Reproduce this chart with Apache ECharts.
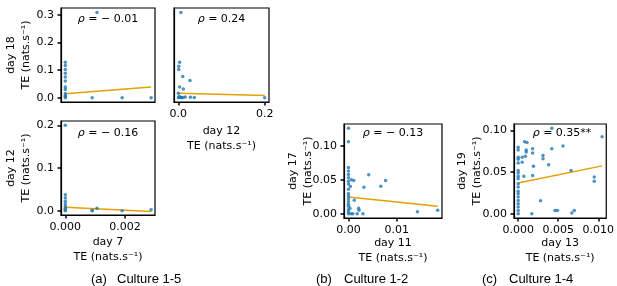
<!DOCTYPE html>
<html>
<head>
<meta charset="utf-8">
<script src="https://cdn.jsdelivr.net/npm/echarts@6/dist/echarts.min.js"></script>
<style>
html, body { margin: 0; padding: 0; background: #fff; }
#chart { width: 617px; height: 286px; }
</style>
</head>
<body>
<div id="chart"></div>
<script>
// Culture 1-5: pairs of TE values between recording days
const cultureA_day7_day18 = [
    [0, 0.129], [0, 0.117], [0, 0.102], [0, 0.089], [0, 0.075], [0, 0.061],
    [0, 0.039], [0, 0.030], [0, 0.0155], [0, 0.004], [0, 0], [0, 0.008],
    [0.0009, 0], [0.00106, 0.309], [0.0019, 0], [0.00287, 0]
];
const cultureA_day12_day18 = [
    [0.006, 0.309], [0.003, 0.129], [0.001, 0.114], [0.001, 0.102], [0.0102, 0.077],
    [0.027, 0.0625], [0.003, 0.039], [0.0116, 0.032], [0, 0.0166], [0.002, 0.004],
    [0.004, 0.002], [0.006, 0.001], [0.008, 0.001], [0.011, 0.001], [0.016, 0.003],
    [0.028, 0.002], [0.037, 0.001], [0.2, 0], [0, 0]
];
const cultureA_day7_day12 = [
    [0, 0.2], [0, 0.0375], [0, 0.030], [0, 0.022], [0, 0.016], [0, 0.010],
    [0, 0.006], [0, 0.002], [0, 0], [0.0009, 0], [0.0009, 0.001], [0.00106, 0.006],
    [0.0019, 0], [0.00287, 0.002]
];
// Culture 1-2
const cultureB_day11_day17 = [
    [0, 0.126], [0, 0.106], [0, 0.068], [0, 0.063], [0, 0.058], [0, 0.053],
    [0, 0.048], [0, 0.044], [0.0006, 0.050], [0.0011, 0.049], [0.0004, 0.040],
    [0, 0.036], [0, 0.030], [0, 0.026], [0, 0.022], [0, 0.018], [0.0012, 0.020],
    [0, 0.014], [0, 0.011], [0.0003, 0.008], [0, 0.006], [0, 0.003], [0, 0],
    [0.0005, 0], [0.0009, 0], [0.0042, 0.0575], [0.0077, 0.049], [0.0067, 0.0406],
    [0.0032, 0.039], [0.0021, 0.008], [0.0022, 0.005], [0.0018, 0], [0.003, 0],
    [0.0143, 0.003], [0.0185, 0.005]
];
// Culture 1-4
const cultureC_day13_day19 = [
    [0.01048, 0.0925], [0.0042, 0.1027], [0.0056, 0.0813], [0.0042, 0.078],
    [0.0031, 0.070], [0.0031, 0.066], [0.0038, 0.059], [0.0018, 0.078],
    [0.0018, 0.073], [0.0019, 0.057], [0.0018, 0.046], [0.0008, 0.0865],
    [0.0011, 0.0855], [0.001, 0.0766], [0.001, 0.0742], [0.0009, 0.069],
    [0.0005, 0.068], [0.0005, 0.062], [0, 0.080], [0, 0.0766], [0, 0.068],
    [0, 0.0655], [0, 0.061], [0.0007, 0.045], [0, 0.052], [0, 0.049], [0, 0.045],
    [0, 0.042], [0, 0.036], [0, 0.032], [0, 0.027], [0, 0.024], [0, 0.020],
    [0, 0.016], [0, 0.012], [0, 0.008], [0, 0.004], [0, 0], [0.0028, 0.0155],
    [0.0017, 0], [0.0046, 0.004], [0.0049, 0.004], [0.0067, 0.001], [0.0070, 0.004],
    [0.0066, 0.052], [0.0095, 0.044], [0.0095, 0.039]
];

// linear fits (start and end of each line)
const fitA_day7_day18 = [[0, 0.0144], [0.00287, 0.0385]];
const fitA_day12_day18 = [[0, 0.0166], [0.2, 0.008]];
const fitA_day7_day12 = [[0, 0.008], [0.00287, -0.002]];
const fitB_day11_day17 = [[0, 0.0245], [0.0185, 0.011]];
const fitC_day13_day19 = [[0, 0.0369], [0.01048, 0.0575]];

const rhoValues = ['\u2212 0.01', '0.24', '\u2212 0.16', '\u2212 0.13', '0.35**'];

// tick values
const ticksDay7 = [0, 0.002];
const ticksDay18 = [0, 0.1, 0.2, 0.3];
const ticksDay12x = [0, 0.2];
const ticksDay12y = [0, 0.1, 0.2];
const ticksDay11 = [0, 0.01];
const ticksDay17 = [0, 0.05, 0.1];
const ticksDay13 = [0, 0.005, 0.01];
const ticksDay19 = [0, 0.05, 0.1];

const captions = [
    { tag: '(a)', name: 'Culture 1-5' },
    { tag: '(b)', name: 'Culture 1-2' },
    { tag: '(c)', name: 'Culture 1-4' }
];

const TE = 'TE (nats.s\u207B\u00B9)';
const FONT = 'DejaVu Sans';
const CAPTION_FONT = '13px "Liberation Sans Narrow", "Liberation Sans", sans-serif';
const BLUE = '#1f77b4';
const ORANGE = '#e69f00';

const panels = [
    {
        grid: { left: 61, top: 8, width: 94, height: 94 },
        points: cultureA_day7_day18, fit: fitA_day7_day18, rho: rhoValues[0], rhoTop: 11,
        x: { min: -0.000144, max: 0.003, ticks: [], dec: 3 },
        y: { min: -0.0155, max: 0.3255, ticks: ticksDay18, dec: 1, name: 'day 18', gap: 27 }
    },
    {
        grid: { left: 174, top: 8, width: 95, height: 94 },
        points: cultureA_day12_day18, fit: fitA_day12_day18, rho: rhoValues[1], rhoTop: 11,
        x: { min: -0.01, max: 0.21, ticks: ticksDay12x, dec: 1, name: 'day 12', gap: 22 },
        y: { min: -0.0155, max: 0.3255, ticks: [], dec: 1 }
    },
    {
        grid: { left: 61, top: 121, width: 94, height: 94 },
        points: cultureA_day7_day12, fit: fitA_day7_day12, rho: rhoValues[2], rhoTop: 12,
        x: { min: -0.000144, max: 0.003, ticks: ticksDay7, dec: 3, name: 'day 7', gap: 20 },
        y: { min: -0.01, max: 0.21, ticks: ticksDay12y, dec: 1, name: 'day 12', gap: 27 }
    },
    {
        grid: { left: 344, top: 124, width: 98, height: 94 },
        points: cultureB_day11_day17, fit: fitB_day11_day17, rho: rhoValues[3], rhoTop: 9,
        x: { min: -0.000925, max: 0.0194, ticks: ticksDay11, dec: 2, name: 'day 11', gap: 18 },
        y: { min: -0.0063, max: 0.1323, ticks: ticksDay17, dec: 2, name: 'day 17', gap: 28 }
    },
    {
        grid: { left: 514, top: 124, width: 96, height: 94 },
        points: cultureC_day13_day19, fit: fitC_day13_day19, rho: rhoValues[4], rhoTop: 9,
        x: { min: -0.000524, max: 0.011, ticks: ticksDay13, dec: 3, name: 'day 13', gap: 18 },
        y: { min: -0.0051, max: 0.1078, ticks: ticksDay19, dec: 2, name: 'day 19', gap: 29 }
    }
];

function makeAxis(a, gi) {
    const hasTicks = a.ticks.length > 0;
    return {
        type: 'value',
        gridIndex: gi,
        min: a.min,
        max: a.max,
        splitLine: { show: false },
        axisLine: { show: true, onZero: false, lineStyle: { color: '#000', width: 1.2 } },
        axisTick: { show: hasTicks, customValues: a.ticks, length: 3.5, lineStyle: { color: '#000', width: 1.5 } },
        axisLabel: {
            show: hasTicks,
            customValues: a.ticks,
            formatter: v => v.toFixed(a.dec),
            color: '#000',
            fontFamily: FONT,
            fontSize: 11,
            margin: 7
        },
        name: a.name ? a.name + '\n' + TE : '',
        nameLocation: 'middle',
        nameGap: a.gap || 20,
        nameMoveOverlap: false,
        nameTextStyle: { color: '#000', fontFamily: FONT, fontSize: 11, lineHeight: 15 }
    };
}

const chart = echarts.init(document.getElementById('chart'), null, { renderer: 'canvas' });

const grids = [], xAxes = [], yAxes = [], series = [], graphics = [];
panels.forEach((p, i) => {
    grids.push(Object.assign({ show: true, borderColor: '#000', borderWidth: 1.2, backgroundColor: 'transparent' }, p.grid));
    xAxes.push(makeAxis(p.x, i));
    yAxes.push(makeAxis(p.y, i));
    series.push({
        type: 'scatter', xAxisIndex: i, yAxisIndex: i,
        data: p.points, symbolSize: 3.5,
        itemStyle: { color: BLUE }, silent: true, z: 3
    });
    series.push({
        type: 'line', xAxisIndex: i, yAxisIndex: i,
        data: p.fit, showSymbol: false,
        lineStyle: { color: ORANGE, width: 1.5 }, silent: true, z: 2
    });
    graphics.push({
        type: 'text',
        x: p.grid.left + p.grid.width / 2,
        y: p.grid.top + p.rhoTop,
        style: {
            text: '{r|\u03C1} = ' + p.rho,
            font: '11px "' + FONT + '"',
            fill: '#000',
            align: 'center',
            verticalAlign: 'middle',
            rich: { r: { fontStyle: 'italic', fontFamily: FONT, fontSize: 11 } }
        }
    });
});

// caption tag and name positions
const captionTagX = [91, 316, 482];
const captionNameX = [117, 344, 509];
captions.forEach((c, i) => {
    graphics.push({
        type: 'text', x: captionTagX[i], y: 279,
        style: { text: c.tag, font: CAPTION_FONT, fill: '#000', verticalAlign: 'middle' }
    });
    graphics.push({
        type: 'text', x: captionNameX[i], y: 279,
        style: { text: c.name, font: CAPTION_FONT, fill: '#000', verticalAlign: 'middle' }
    });
});

chart.setOption({
    animation: false,
    grid: grids,
    xAxis: xAxes,
    yAxis: yAxes,
    series: series,
    graphic: graphics
});
</script>
</body>
</html>
